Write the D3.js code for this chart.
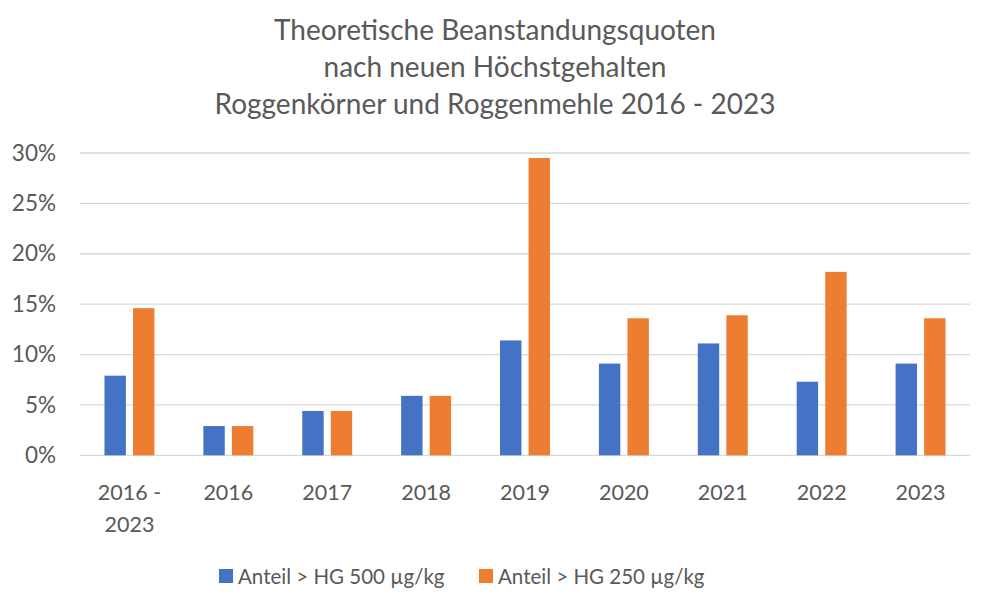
<!DOCTYPE html>
<html>
<head>
<meta charset="utf-8">
<script src="https://cdn.jsdelivr.net/npm/d3@7"></script>
<style>
  body { margin: 0; background: white; }
  text { font-family: Lato, "Open Sans", sans-serif; fill: #595959; }
</style>
</head>
<body>
<div id="container"></div>
<script>
// Theoretical complaint rates, rye grain and rye flour

const width = 990;
const height = 614;

const categories = ["2016 - 2023", "2016", "2017", "2018", "2019", "2020", "2021", "2022", "2023"];
const seriesNames = ["Anteil > HG 500 µg/kg", "Anteil > HG 250 µg/kg"];
const hg500 = [7.9, 2.9, 4.4, 5.9, 11.4, 9.1, 11.1, 7.3, 9.1];
const hg250 = [14.6, 2.9, 4.4, 5.9, 29.5, 13.6, 13.9, 18.2, 13.6];
const yTicks = [0, 5, 10, 15, 20, 25, 30];
const titleLines = ["Theoretische Beanstandungsquoten", "nach neuen Höchstgehalten", "Roggenkörner und Roggenmehle 2016 - 2023"];

const colors = ["#4472c4", "#ed7d31"];

const margin = { top: 153, right: 20, bottom: 156, left: 80 };

const svg = d3.select("#container")
    .append("svg")
    .attr("width", width)
    .attr("height", height)
    .style("background-color", "white");

const x0 = d3.scaleBand()
    .domain(categories)
    .range([margin.left, width - margin.right])
    .paddingInner(0.495)
    .paddingOuter(0.2475);

const x1 = d3.scaleBand()
    .domain(seriesNames)
    .range([0, x0.bandwidth()])
    .paddingInner(0.25);

const y = d3.scaleLinear()
    .domain([0, 30])
    .range([height - margin.bottom - 2.7, margin.top]);

// title
svg.append("g")
    .selectAll("text")
    .data(titleLines)
    .join("text")
    .attr("x", width / 2)
    .attr("y", (d, i) => 40 + i * 37)
    .attr("text-anchor", "middle")
    .style("font-size", "28px")
    .text(d => d);

// gridlines
svg.append("g")
    .selectAll("line")
    .data(yTicks)
    .join("line")
    .attr("x1", margin.left)
    .attr("x2", width - margin.right)
    .attr("y1", d => y(d))
    .attr("y2", d => y(d))
    .attr("stroke", "#d9d9d9")
    .attr("stroke-width", 1.3);

// y axis labels
const yAxis = svg.append("g")
    .attr("transform", `translate(${margin.left}, 0)`)
    .call(d3.axisLeft(y).tickValues(yTicks).tickFormat(d => d + "%").tickSize(0).tickPadding(24));
yAxis.select(".domain").remove();
yAxis.selectAll("text")
    .style("font-size", "22.5px")
    .style("font-family", "Lato, sans-serif")
    .attr("fill", "#595959");

// bars
const data = categories.map((c, i) => ({ category: c, values: [hg500[i], hg250[i]] }));

svg.append("g")
    .selectAll("g")
    .data(data)
    .join("g")
    .attr("transform", d => `translate(${x0(d.category)}, 0)`)
    .selectAll("rect")
    .data(d => d.values.map((v, j) => ({ key: seriesNames[j], value: v, j })))
    .join("rect")
    .attr("x", d => x1(d.key))
    .attr("y", d => y(d.value))
    .attr("width", x1.bandwidth())
    .attr("height", d => y(0) - y(d.value))
    .attr("fill", d => colors[d.j]);

// x labels
const xLabels = svg.append("g")
    .selectAll("text")
    .data(categories)
    .join("text")
    .attr("x", d => x0(d) + x0.bandwidth() / 2)
    .attr("y", 500)
    .attr("text-anchor", "middle")
    .style("font-size", "21.5px");

xLabels.each(function(d) {
    const parts = d.includes(" - ") ? [d.split(" - ")[0] + " -", d.split(" - ")[1]] : [d];
    d3.select(this).selectAll("tspan")
        .data(parts)
        .join("tspan")
        .attr("x", x0(d) + x0.bandwidth() / 2)
        .attr("dy", (p, i) => i === 0 ? 0 : 32)
        .text(p => p);
});

// legend
const legendX = [219, 479];
const legend = svg.append("g")
    .selectAll("g")
    .data(seriesNames)
    .join("g")
    .attr("transform", (d, i) => `translate(${legendX[i]}, 569)`);

legend.append("rect")
    .attr("width", 14)
    .attr("height", 14)
    .attr("fill", (d, i) => colors[i]);

legend.append("text")
    .attr("x", 19)
    .attr("y", 14.5)
    .style("font-size", "20.5px")
    .text(d => d);
</script>
</body>
</html>
